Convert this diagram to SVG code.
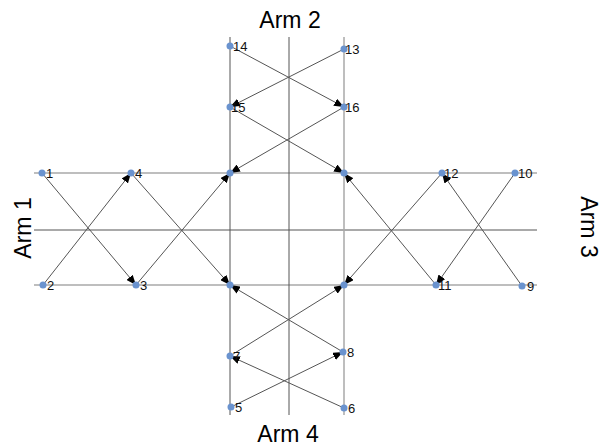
<svg xmlns="http://www.w3.org/2000/svg" width="601" height="447" viewBox="0 0 601 447">
<style>
.grid-l{stroke:#a8a8a8;stroke-width:1.5;fill:none}
.grid-d{stroke:#555;stroke-width:1;fill:none}
.edge{stroke:#555;stroke-width:1;fill:none;marker-end:url(#ah)}
.node{fill:#6a93cf}
.lbl{font-family:"Liberation Sans",Arial,sans-serif;font-size:13px;fill:#111}
.arm{font-family:"Liberation Sans",Arial,sans-serif;font-size:23px;fill:#000}
</style>
<defs>
<marker id="ah" viewBox="0 0 10 8" refX="10" refY="4" markerWidth="10" markerHeight="8" markerUnits="userSpaceOnUse" orient="auto">
<path d="M0,0 L10,4 L0,8 z" fill="#000"/>
</marker>
</defs>
<rect width="601" height="447" fill="#fff"/>
<g id="grid">
<line class="grid-l" x1="34" y1="173" x2="537" y2="173"/>
<line class="grid-d" x1="34" y1="230" x2="537" y2="230"/>
<line class="grid-l" x1="34" y1="285" x2="537" y2="285"/>
<line class="grid-d" x1="230" y1="37" x2="230" y2="415"/>
<line class="grid-d" x1="289" y1="37" x2="289" y2="415"/>
<line class="grid-l" x1="344" y1="37" x2="344" y2="415"/>
</g>
<g id="connectors">
<line class="edge" x1="42" y1="173" x2="136" y2="285"/>
<line class="edge" x1="43" y1="285" x2="131" y2="173"/>
<line class="edge" x1="136" y1="285" x2="230" y2="173"/>
<line class="edge" x1="131" y1="173" x2="230" y2="285"/>
<line class="edge" x1="230" y1="46" x2="344" y2="107"/>
<line class="edge" x1="344" y1="49" x2="230" y2="107"/>
<line class="edge" x1="230" y1="107" x2="344" y2="173"/>
<line class="edge" x1="344" y1="107" x2="230" y2="173"/>
<line class="edge" x1="436" y1="285" x2="344" y2="173"/>
<line class="edge" x1="442" y1="173" x2="344" y2="285"/>
<line class="edge" x1="515" y1="173" x2="436" y2="285"/>
<line class="edge" x1="522" y1="286" x2="442" y2="173"/>
<line class="edge" x1="231" y1="407" x2="343" y2="352"/>
<line class="edge" x1="344" y1="408" x2="230" y2="356"/>
<line class="edge" x1="343" y1="352" x2="230" y2="285"/>
<line class="edge" x1="230" y1="356" x2="344" y2="285"/>
</g>
<g id="n1"><circle class="node" cx="42" cy="173" r="3.5"/><text class="lbl" x="46" y="178">1</text></g>
<g id="n2"><circle class="node" cx="43" cy="285" r="3.5"/><text class="lbl" x="47" y="290">2</text></g>
<g id="n3"><circle class="node" cx="136" cy="285" r="3.5"/><text class="lbl" x="140" y="290">3</text></g>
<g id="n4"><circle class="node" cx="131" cy="173" r="3.5"/><text class="lbl" x="135" y="178">4</text></g>
<g id="n5"><circle class="node" cx="231" cy="407" r="3.5"/><text class="lbl" x="235" y="412">5</text></g>
<g id="n6"><circle class="node" cx="344" cy="408" r="3.5"/><text class="lbl" x="348" y="413">6</text></g>
<g id="n7"><circle class="node" cx="230" cy="356" r="3.5"/><text class="lbl" x="233" y="361">7</text></g>
<g id="n8"><circle class="node" cx="343" cy="352" r="3.5"/><text class="lbl" x="347" y="357">8</text></g>
<g id="n9"><circle class="node" cx="522" cy="286" r="3.5"/><text class="lbl" x="527" y="291">9</text></g>
<g id="n10"><circle class="node" cx="515" cy="173" r="3.5"/><text class="lbl" x="518" y="178">10</text></g>
<g id="n11"><circle class="node" cx="436" cy="285" r="3.5"/><text class="lbl" x="438" y="290">11</text></g>
<g id="n12"><circle class="node" cx="442" cy="173" r="3.5"/><text class="lbl" x="444" y="178">12</text></g>
<g id="n13"><circle class="node" cx="344" cy="49" r="3.5"/><text class="lbl" x="345" y="54">13</text></g>
<g id="n14"><circle class="node" cx="230" cy="46" r="3.5"/><text class="lbl" x="233" y="51">14</text></g>
<g id="n15"><circle class="node" cx="230" cy="107" r="3.5"/><text class="lbl" x="231" y="112">15</text></g>
<g id="n16"><circle class="node" cx="344" cy="107" r="3.5"/><text class="lbl" x="345" y="112">16</text></g>
<g id="nTL"><circle class="node" cx="230" cy="173" r="3.5"/></g>
<g id="nTR"><circle class="node" cx="344" cy="173" r="3.5"/></g>
<g id="nBL"><circle class="node" cx="230" cy="285" r="3.5"/></g>
<g id="nBR"><circle class="node" cx="344" cy="285" r="3.5"/></g>
<g id="arms">
<text class="arm" x="290" y="28" text-anchor="middle">Arm 2</text>
<text class="arm" x="288" y="442" text-anchor="middle">Arm 4</text>
<text class="arm" transform="translate(31,228) rotate(-90)" text-anchor="middle">Arm 1</text>
<text class="arm" transform="translate(581,227) rotate(90)" text-anchor="middle">Arm 3</text>
</g>
</svg>
